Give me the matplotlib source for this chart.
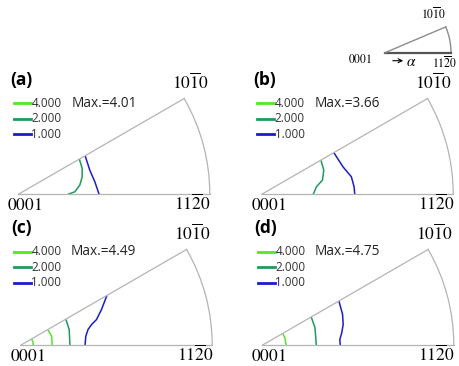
import numpy as np
import matplotlib
matplotlib.use("Agg")
import matplotlib.pyplot as plt

plt.rcParams['mathtext.fontset'] = 'stix'

# ---------------- data ----------------
panel_names = ["(a)", "(b)", "(c)", "(d)"]
max_values = ["4.01", "3.66", "4.49", "4.75"]
legend_levels = ["4.000", "2.000", "1.000"]
level_colors = {"4.000": "#55e622", "2.000": "#1f9a5c", "1.000": "#1c1ccc"}

# contour lines: (level, azimuth in degrees, radial fraction)
a_green_theta = [0, 2.6, 8.6, 15.4, 22.1, 30]
a_green_r = [0.260, 0.296, 0.325, 0.346, 0.360, 0.368]
a_blue_theta = [0, 9.3, 18.7, 30]
a_blue_r = [0.422, 0.405, 0.394, 0.403]

b_green_theta = [0, 7.9, 13.2, 21.3, 30]
b_green_r = [0.269, 0.289, 0.326, 0.348, 0.357]
b_blue_theta = [0, 4.7, 11.1, 18.7, 30]
b_blue_r = [0.486, 0.484, 0.477, 0.448, 0.435]

c_light1_theta = [0, 15, 30]
c_light1_r = [0.066, 0.066, 0.065]
c_light2_theta = [0, 16, 30]
c_light2_r = [0.165, 0.168, 0.164]
c_green_theta = [0, 17.9, 30]
c_green_r = [0.257, 0.266, 0.272]
c_blue_theta = [0, 7.8, 13.1, 16.2, 18.7, 23.8, 30]
c_blue_r = [0.336, 0.343, 0.361, 0.385, 0.418, 0.461, 0.520]

d_light_theta = [0, 18.3, 30]
d_light_r = [0.125, 0.124, 0.123]
d_green_theta = [0, 18.4, 30]
d_green_r = [0.282, 0.290, 0.295]
d_blue_theta = [0, 4.2, 8.9, 14.4, 21, 30]
d_blue_r = [0.407, 0.406, 0.420, 0.436, 0.449, 0.462]

panel_contours = [
    [("2.000", a_green_theta, a_green_r), ("1.000", a_blue_theta, a_blue_r)],
    [("2.000", b_green_theta, b_green_r), ("1.000", b_blue_theta, b_blue_r)],
    [("4.000", c_light1_theta, c_light1_r), ("4.000", c_light2_theta, c_light2_r),
     ("2.000", c_green_theta, c_green_r), ("1.000", c_blue_theta, c_blue_r)],
    [("4.000", d_light_theta, d_light_r), ("2.000", d_green_theta, d_green_r),
     ("1.000", d_blue_theta, d_blue_r)],
]

LABEL_0001 = r'$\mathrm{0001}$'
LABEL_1120 = r'$\mathrm{11\overline{2}0}$'
LABEL_1010 = r'$\mathrm{10\overline{1}0}$'

# ---------------- layout ----------------
W, H = 459, 366
fig = plt.figure(figsize=(W / 100, H / 100), dpi=100)

SECTOR = 30.0
R_PX = 191.5
# wedge origin (pixels from top-left) for each panel
origins = [(18.3, 194.3), (261.7, 194.3), (20.7, 345.2), (262.3, 345.2)]
# legend anchor (start of first legend line)
anchors = [(13.5, 103.3), (256.5, 103.3), (13.5, 251.7), (257.5, 251.7)]
max_dx = [58, 58, 57, 57]

label_kw = dict(fontsize=12.5, color="black")
edge_color = "#b4b4b4"


def make_wedge_axes(ox, oy, rpx, theta_max):
    # polar axes places wedge of 0..theta_max filling width, centered vertically
    off = 0.5 - np.sin(np.radians(theta_max)) / 2
    left = ox
    bottom_px = oy + off * rpx  # from top
    ax = fig.add_axes([left / W, 1 - bottom_px / H, rpx / W, rpx / H],
                      projection='polar')
    ax.set_thetamin(0)
    ax.set_thetamax(theta_max)
    ax.set_rlim(0, 1)
    ax.set_xticks([])
    ax.set_yticks([])
    ax.grid(False)
    ax.patch.set_alpha(0)
    return ax


for i in range(4):
    ox, oy = origins[i]
    ax = make_wedge_axes(ox, oy, R_PX, SECTOR)
    for name, sp in ax.spines.items():
        sp.set_color(edge_color)
        sp.set_linewidth(0.9)
    ax.spines['inner'].set_visible(False)
    for level, th, rr in panel_contours[i]:
        ax.plot(np.radians(th), rr, color=level_colors[level], lw=1.1,
                solid_capstyle='butt')
    # corner labels
    ax.annotate(LABEL_0001, xy=(0, 0), xytext=(6.5, -10.5),
                textcoords='offset pixels', ha='center', va='center', **label_kw)
    ax.annotate(LABEL_1120, xy=(0, 1), xytext=(1, -10),
                textcoords='offset pixels', ha='right', va='center', **label_kw)
    ax.annotate(LABEL_1010, xy=(np.radians(SECTOR), 1), xytext=(6, 16),
                textcoords='offset pixels', ha='center', va='center', **label_kw)

    # panel label, legend, max text
    lx, ly = anchors[i]
    fig.text((lx + 8) / W, 1 - (ly - 23.5) / H, panel_names[i], fontsize=12.5,
             fontweight='bold', family='Open Sans', ha='center', va='center')
    for k, lev in enumerate(legend_levels):
        y = ly + k * 15.5
        fig.add_artist(plt.Line2D([lx / W, (lx + 17) / W], [1 - y / H, 1 - y / H],
                                  color=level_colors[lev], lw=2.0,
                                  transform=fig.transFigure))
        fig.text((lx + 18) / W, 1 - y / H, lev, fontsize=8.4, family='Open Sans',
                 color="#333333", ha='left', va='center')
    fig.text((lx + max_dx[i]) / W, 1 - ly / H, "Max.=" + max_values[i], fontsize=9.8,
             family='Open Sans', color="#222222", ha='left', va='center')

# ---------------- inset schematic ----------------
INSET_SECTOR = 23.0
iox, ioy, ir = 385.0, 52.7, 66.0
iax = make_wedge_axes(iox, ioy, ir, INSET_SECTOR)
iax.spines['inner'].set_visible(False)
iax.spines['polar'].set_color("#8c8c8c")
iax.spines['polar'].set_linewidth(1.0)
iax.spines['end'].set_color("#8c8c8c")
iax.spines['end'].set_linewidth(1.0)
iax.spines['start'].set_color("#555555")
iax.spines['start'].set_linewidth(1.6)
small_kw = dict(fontsize=8.5, color="black")
iax.annotate(LABEL_0001, xy=(0, 0), xytext=(-25, -7),
             textcoords='offset pixels', ha='center', va='center', **small_kw)
iax.annotate(LABEL_1120, xy=(0, 1), xytext=(-6, -10),
             textcoords='offset pixels', ha='center', va='center', **small_kw)
iax.annotate(LABEL_1010, xy=(np.radians(INSET_SECTOR), 1), xytext=(-12, 13),
             textcoords='offset pixels', ha='center', va='center', **small_kw)
fig.add_artist(matplotlib.patches.FancyArrowPatch(
    (390 / W, 1 - 60.7 / H), (406 / W, 1 - 60.7 / H), transform=fig.transFigure,
    arrowstyle='->', mutation_scale=7, lw=0.8, color='black'))
fig.text(411 / W, 1 - 61 / H, r'$\alpha$', fontsize=11, ha='center', va='center')

fig.savefig("out.png", dpi=100)
